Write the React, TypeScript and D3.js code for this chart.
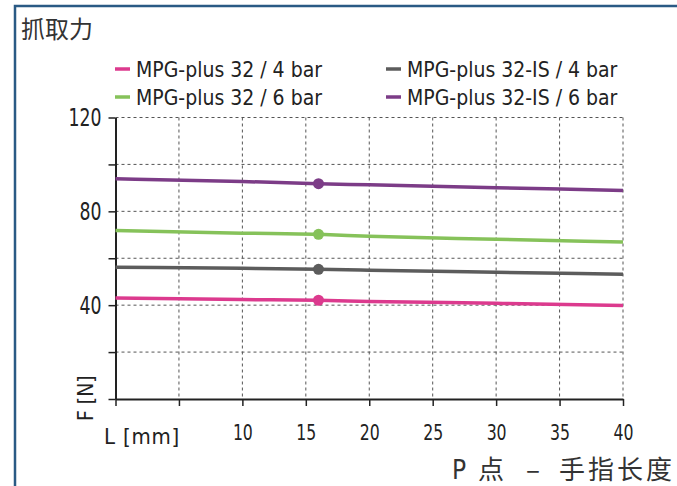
import { useEffect, useRef } from "react";
import * as d3 from "d3";

// finger length L [mm]
const lengths = [0, 10, 16, 20, 30, 40];

const seriesNames = [
  "MPG-plus 32 / 4 bar",
  "MPG-plus 32 / 6 bar",
  "MPG-plus 32-IS / 4 bar",
  "MPG-plus 32-IS / 6 bar",
];
const seriesColors = ["#dc3a8e", "#86c25a", "#5c5c5c", "#7c3c87"];

// gripping force F [N]
const plus4 = [43.1, 42.4, 42.1, 41.6, 40.8, 39.9];
const plus6 = [71.8, 70.7, 70.2, 69.4, 68.1, 66.9];
const is4 = [56.2, 55.7, 55.3, 54.9, 54.0, 53.2];
const is6 = [93.9, 92.7, 91.8, 91.3, 90.1, 88.9];
const seriesValues = [plus4, plus6, is4, is6];

// marked point P
const markerLength = 16;
const markerIndex = 2;

const xTicks = [0, 5, 10, 15, 20, 25, 30, 35, 40];
const xTickLabels = ["", "", "10", "15", "20", "25", "30", "35", "40"];
const yTicks = [0, 20, 40, 60, 80, 100, 120];
const yTickLabels = ["", "", "40", "", "80", "", "120"];

const title = "抓取力";
const xUnit = "L [mm]";
const yUnit = "F [N]";
const xTitleParts = ["P", "点", "–", "手指长度"];

const App = () => {
  const ref = useRef<SVGSVGElement>(null);

  useEffect(() => {
    document.body.style.margin = "0";
    draw();
  }, []);

  const draw = () => {
    const width = 677;
    const height = 486;
    const narrow = "'DejaVu Sans Condensed', 'DejaVu Sans', sans-serif";
    const cjk = "'Noto Sans CJK SC', sans-serif";

    const svg = d3.select(ref.current).attr("width", width).attr("height", height);
    svg.selectAll("*").remove();

    const x = d3.scaleLinear().domain([0, 40]).range([115.5, 623]);
    const y = d3.scaleLinear().domain([0, 120]).range([399, 117.5]);

    // frame
    svg
      .append("path")
      .attr("d", `M15,${height} L15,6 L${width},6`)
      .attr("fill", "none")
      .attr("stroke", "#2a5a84")
      .attr("stroke-width", 2.5);

    svg
      .append("text")
      .attr("x", 21)
      .attr("y", 38)
      .attr("font-family", cjk)
      .attr("font-size", 24)
      .attr("fill", "#333")
      .text(title);

    // grid
    const grid = svg.append("g").attr("stroke", "#555").attr("stroke-width", 1).attr("stroke-dasharray", "3,3");
    yTicks
      .filter((t) => t > 0)
      .forEach((t) => {
        grid.append("line").attr("x1", x(0)).attr("x2", x(40)).attr("y1", y(t)).attr("y2", y(t));
      });
    xTicks
      .filter((t) => t > 0)
      .forEach((t) => {
        grid.append("line").attr("x1", x(t)).attr("x2", x(t)).attr("y1", y(120)).attr("y2", y(0));
      });

    // axes
    const xAxis = svg
      .append("g")
      .attr("transform", `translate(0,${y(0)})`)
      .call(d3.axisBottom(x).tickValues(xTicks).tickSize(7).tickFormat((_, i) => xTickLabels[i]).tickSizeOuter(0));
    xAxis.select(".domain").attr("stroke", "#222").attr("stroke-width", 2);
    xAxis.selectAll(".tick line").attr("stroke", "#222").attr("stroke-width", 1.5);
    xAxis
      .selectAll<SVGTextElement, number>(".tick text")
      .attr("font-family", narrow)
      .attr("font-size", 21)
      .attr("fill", "#222")
      .attr("y", 26)
      .attr("dy", "0.71em")
      .attr("textLength", (_, i) => (xTickLabels[i] ? xTickLabels[i].length * 10 : null))
      .attr("lengthAdjust", "spacingAndGlyphs");

    const yAxis = svg
      .append("g")
      .attr("transform", `translate(${x(0)},0)`)
      .call(d3.axisLeft(y).tickValues(yTicks).tickSize(7).tickFormat((_, i) => yTickLabels[i]).tickSizeOuter(0));
    yAxis.select(".domain").attr("stroke", "#222").attr("stroke-width", 2);
    yAxis.selectAll(".tick line").attr("stroke", "#222").attr("stroke-width", 1.5);
    yAxis
      .selectAll<SVGTextElement, number>(".tick text")
      .attr("font-family", narrow)
      .attr("font-size", 25)
      .attr("fill", "#222")
      .attr("x", -14)
      .attr("textLength", (_, i) => (yTickLabels[i] ? yTickLabels[i].length * 11 : null))
      .attr("lengthAdjust", "spacingAndGlyphs");

    svg
      .append("text")
      .attr("x", 104)
      .attr("y", 444)
      .attr("font-family", narrow)
      .attr("font-size", 22)
      .attr("letter-spacing", 0.8)
      .attr("fill", "#222")
      .text(xUnit);

    svg
      .append("text")
      .attr("transform", `translate(93,421) rotate(-90)`)
      .attr("font-family", narrow)
      .attr("font-size", 21)
      .attr("fill", "#222")
      .text(yUnit);

    // axis title, split into its spaced-out parts
    const titleX = [452, 478, 526, 675];
    xTitleParts.forEach((p, i) => {
      svg
        .append("text")
        .attr("x", titleX[i])
        .attr("y", 479)
        .attr("text-anchor", i === xTitleParts.length - 1 ? "end" : "start")
        .attr("font-family", i === 0 ? narrow : cjk)
        .attr("font-size", 26)
        .attr("letter-spacing", i === xTitleParts.length - 1 ? 3 : 0)
        .attr("fill", "#333")
        .text(p);
    });

    // lines
    const line = d3
      .line<number>()
      .x((_, i) => x(lengths[i]))
      .y((d) => y(d))
      .curve(d3.curveMonotoneX);

    seriesValues.forEach((vals, s) => {
      svg
        .append("path")
        .datum(vals)
        .attr("d", line)
        .attr("fill", "none")
        .attr("stroke", seriesColors[s])
        .attr("stroke-width", 3.5);
      svg
        .append("circle")
        .attr("cx", x(markerLength))
        .attr("cy", y(vals[markerIndex]))
        .attr("r", 5.5)
        .attr("fill", seriesColors[s]);
    });

    // legend
    const legendPos = [
      [115, 69],
      [115, 97],
      [386, 69],
      [386, 97],
    ];
    seriesNames.forEach((name, s) => {
      const [lx, ly] = legendPos[s];
      const g = svg.append("g").attr("transform", `translate(${lx},${ly})`);
      g.append("line").attr("x1", 0).attr("x2", 15).attr("y1", 0).attr("y2", 0).attr("stroke", seriesColors[s]).attr("stroke-width", 3.5);
      g.append("text")
        .attr("x", 21)
        .attr("y", 7.5)
        .attr("font-family", narrow)
        .attr("font-size", 21)
        .attr("fill", "#222")
        .text(name);
    });
  };

  return <svg ref={ref} style={{ display: "block" }}></svg>;
};

export default App;
